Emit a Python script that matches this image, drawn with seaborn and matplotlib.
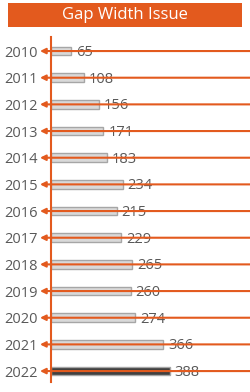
import matplotlib
matplotlib.use("Agg")
import matplotlib.pyplot as plt
import matplotlib.patches as mpatches
import seaborn as sns
import pandas as pd

years = ["2010", "2011", "2012", "2013", "2014", "2015", "2016",
         "2017", "2018", "2019", "2020", "2021", "2022"]
values = [65, 108, 156, 171, 183, 234, 215, 229, 265, 260, 274, 366, 388]
title = "Gap Width Issue"

ORANGE = "#E35A1E"
LIGHT = "#D9D9D9"
DARK = "#404040"
TEXT = "#595959"

sns.set_theme(style="white")
plt.rcParams['font.family'] = ['Open Sans', 'DejaVu Sans']

df = pd.DataFrame({"year": years, "value": values})
palette = {y: (DARK if y == "2022" else LIGHT) for y in years}

fig = plt.figure(figsize=(2.5, 3.92), dpi=100)
ax = fig.add_axes([0.204, 0.0255, 0.796, 0.880])

sns.barplot(data=df, x="value", y="year", hue="year", palette=palette,
            orient="h", width=0.32, edgecolor="#A6A6A6", linewidth=1.0,
            legend=False, ax=ax)

xmax = 650
ax.set_xlim(0, xmax)
ax.set_ylim(12.41, -0.525)

for i, v in enumerate(values):
    ax.text(v + 16, i + 0.05, str(v), va="center", ha="left",
            fontsize=10.5, color=TEXT, zorder=3)
    ax.annotate("", xy=(-36, i), xytext=(xmax, i),
                arrowprops=dict(arrowstyle="-|>", color=ORANGE, lw=1.5,
                                mutation_scale=8, shrinkA=0, shrinkB=0),
                annotation_clip=False, zorder=5)

for s in ["top", "right", "bottom"]:
    ax.spines[s].set_visible(False)
ax.spines["left"].set_color(ORANGE)
ax.spines["left"].set_linewidth(1.5)
ax.spines["left"].set_zorder(6)

ax.set_xticks([])
ax.set_xlabel("")
ax.set_ylabel("")
ax.tick_params(axis="y", length=0, pad=9.5, labelsize=10.5, labelcolor=TEXT)

fig.patches.append(mpatches.Rectangle((0.032, 0.931), 0.936, 0.0612,
                                      transform=fig.transFigure,
                                      facecolor=ORANGE, edgecolor="none"))
fig.text(0.5, 0.962, title, ha="center", va="center", color="white",
         fontsize=12)

fig.savefig("out.png", dpi=100)
